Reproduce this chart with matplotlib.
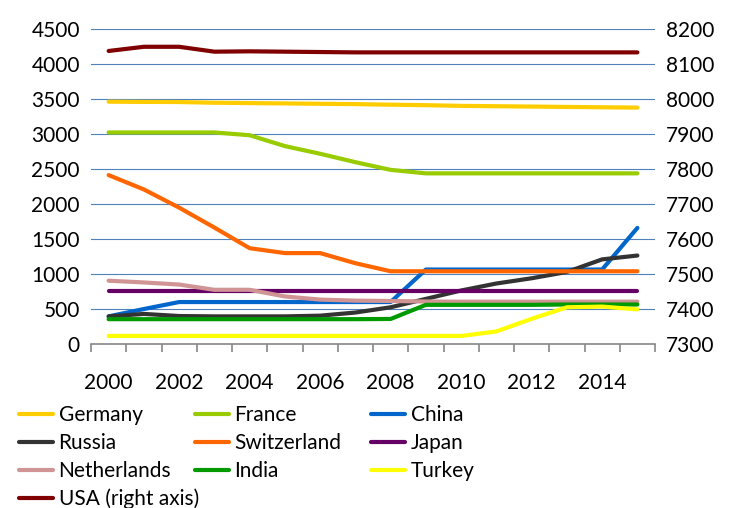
import numpy as np
import matplotlib
matplotlib.use('Agg')
import matplotlib.pyplot as plt

plt.rcParams['font.family'] = ['Lato', 'DejaVu Sans']

# data
years = list(range(2000, 2016))
germany = [3465, 3462, 3460, 3450, 3445, 3440, 3435, 3430, 3422, 3415, 3405, 3400, 3395, 3390, 3385, 3380]
france = [3025, 3025, 3025, 3025, 2985, 2830, 2720, 2600, 2490, 2440, 2440, 2440, 2440, 2440, 2440, 2440]
china = [395, 500, 600, 600, 600, 600, 600, 600, 600, 1065, 1065, 1065, 1065, 1065, 1065, 1660]
russia = [395, 430, 400, 395, 395, 395, 405, 450, 525, 645, 765, 865, 940, 1030, 1210, 1265]
switzerland = [2415, 2210, 1950, 1665, 1370, 1300, 1300, 1155, 1040, 1040, 1040, 1040, 1040, 1040, 1040, 1040]
japan = [763] * 16
netherlands = [905, 880, 850, 775, 775, 680, 635, 620, 615, 608, 605, 605, 605, 605, 605, 605]
india = [355, 355, 355, 355, 355, 355, 355, 355, 358, 560, 560, 560, 560, 565, 565, 565]
turkey = [115, 115, 115, 115, 115, 115, 115, 115, 115, 115, 115, 180, 360, 525, 535, 495]
usa = [8138, 8150, 8150, 8136, 8137, 8136, 8135, 8134, 8134, 8134, 8134, 8134, 8134, 8134, 8134, 8134]

left_series = [
    ('Germany', germany, '#FFCC00'),
    ('France', france, '#99CC00'),
    ('China', china, '#0066CC'),
    ('Russia', russia, '#333333'),
    ('Switzerland', switzerland, '#FF6600'),
    ('Japan', japan, '#660066'),
    ('Netherlands', netherlands, '#D09494'),
    ('India', india, '#009900'),
    ('Turkey', turkey, '#FFFF00'),
]

fig = plt.figure(figsize=(7.37, 5.08), dpi=100)
ax = fig.add_axes([91/737, 1 - 344/508, (655-91)/737, (344-29.3)/508])
ax2 = ax.twinx()

x = np.arange(len(years))
lw = 3.0
handles = {}
for name, vals, col in left_series:
    h, = ax.plot(x, vals, color=col, lw=lw, solid_capstyle='round', label=name)
    handles[name] = h
h, = ax2.plot(x, usa, color='#800000', lw=lw, solid_capstyle='round', label='USA (right axis)')
handles['USA (right axis)'] = h

ax.set_xlim(-0.5, len(years) - 0.5)
ax.set_ylim(0, 4500)
ax2.set_ylim(7300, 8200)
ax.set_yticks(np.arange(0, 4501, 500))
ax2.set_yticks(np.arange(7300, 8201, 100))
ax.yaxis.grid(True, color='#4F81BD', lw=0.8)
ax.set_axisbelow(True)

ax.set_xticks(x[::2])
ax.set_xticklabels([str(y) for y in years[::2]])
ax.set_xticks(np.arange(-0.5, len(years)), minor=True)
ax.tick_params(axis='x', which='major', length=0, pad=21, labelsize=15)
ax.tick_params(axis='x', which='minor', length=6, width=1.2, color='#888888', direction='out')
ax.tick_params(axis='y', length=0, labelsize=15, pad=8)
ax2.tick_params(axis='y', length=0, labelsize=15, pad=8)

for a in (ax, ax2):
    for s in ('left', 'right', 'top'):
        a.spines[s].set_visible(False)
ax.spines['bottom'].set_color('#888888')
ax.spines['bottom'].set_linewidth(1.2)
ax2.spines['bottom'].set_visible(False)

# legend: three equal-width columns like the original (one legend per column)
columns = [['Germany', 'Russia', 'Netherlands', 'USA (right axis)'],
           ['France', 'Switzerland', 'India'],
           ['China', 'Japan', 'Turkey']]
col_x = [19, 195, 371]
for names, cx in zip(columns, col_x):
    fig.legend([handles[n] for n in names], names, loc='upper left',
               bbox_to_anchor=(cx/737, 1 - 405/508), frameon=False, fontsize=15,
               handlelength=1.65, handletextpad=0.25, labelspacing=0.38,
               borderpad=0, borderaxespad=0)

fig.savefig('out.png', dpi=100)
